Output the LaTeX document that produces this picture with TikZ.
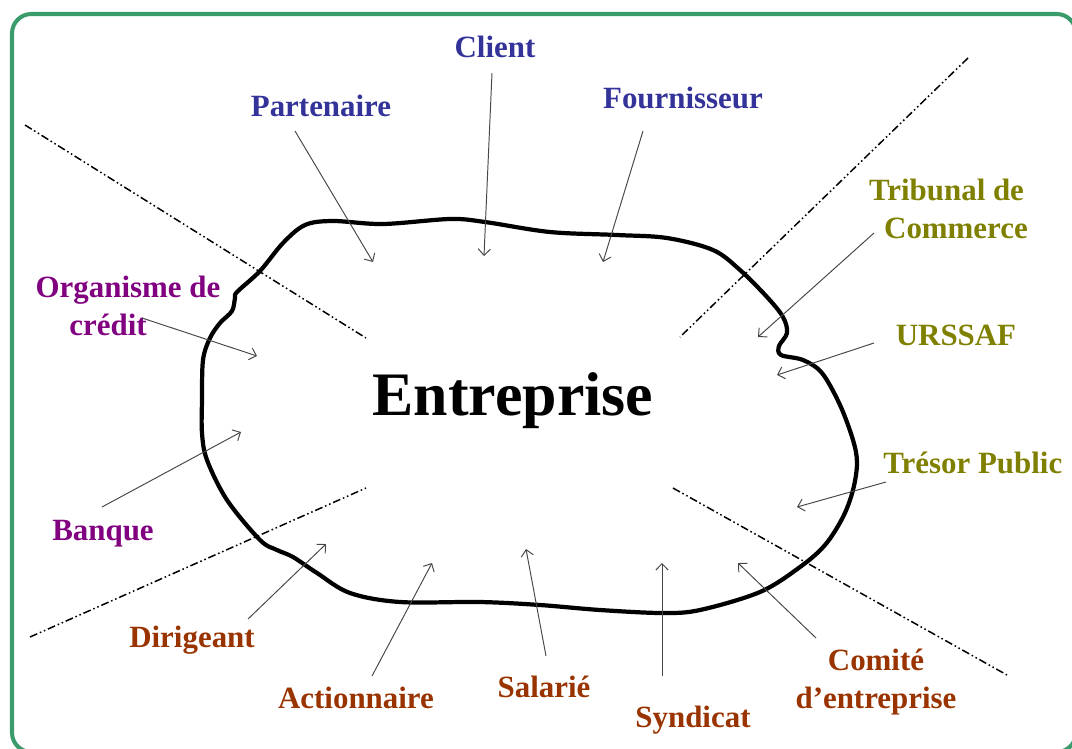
\documentclass[tikz,border=0pt]{standalone}
\usepackage{fontspec}
\setmainfont{Liberation Serif}
\usetikzlibrary{arrows.meta}
\definecolor{cblue}{RGB}{51,51,153}
\definecolor{cpurple}{RGB}{128,0,128}
\definecolor{colive}{RGB}{128,128,0}
\definecolor{cbrown}{RGB}{153,51,0}
\definecolor{cframe}{RGB}{58,155,107}
\begin{document}
\begin{tikzpicture}[x=0.02cm,y=-0.02cm,
  lbl/.style={font=\fontsize{17.6}{21.5}\selectfont\bfseries, inner sep=0pt, align=center, anchor=base},
  rel/.style={draw=black!72, line width=0.55pt, -{Straight Barb[length=3.6pt,width=7pt]}},
  sepline/.style={line width=0.85pt, dash pattern=on 4.5pt off 1.6pt on 0.9pt off 1.6pt on 0.9pt off 1.6pt},
  blob/.style={line width=2.4pt, line join=round},
]
\useasboundingbox (0,0) rectangle (1072,748);
\begin{scope}
\clip (0,0) rectangle (1072,748);
\draw[cframe, line width=2.3pt, rounded corners=11pt] (12,14) rectangle (1076,752);
\end{scope}

% separating lines
\coordinate (tl0) at (25,125);  \coordinate (tl1) at (366,338);
\coordinate (tr0) at (968,58);  \coordinate (tr1) at (680,337);
\coordinate (bl0) at (30,637);  \coordinate (bl1) at (366,488);
\coordinate (br0) at (673,488); \coordinate (br1) at (1007,675);
\draw[sepline] (tl0) -- (tl1);
\draw[sepline] (tr0) -- (tr1);
\draw[sepline] (bl0) -- (bl1);
\draw[sepline] (br0) -- (br1);

% enterprise outline
\draw[blob] plot[smooth cycle, tension=0.55] coordinates {
 (237,292) (260,271) (283,243) (305,225) (333,221) (383,224) (450,219) (485,222)
 (550,232) (617,235) (667,238) (713,250) (740,270) (767,297) (783,317) (787,333)
 (779,346) (781,355) (803,360) (822,373) (840,405) (853,440) (857,463) (853,490)
 (843,517) (825,545) (800,567) (760,592) (700,610) (662,613) (600,610) (540,605)
 (480,602) (400,602) (350,593) (317,573) (293,557) (277,550) (260,540) (227,500)
 (207,460) (202,433) (202,400) (203,360) (210,338) (220,323) (232,311) (235,298)};

\node[font=\fontsize{35.2}{40}\selectfont\bfseries, inner sep=0pt, anchor=base] (ent) at (513,415) {Entreprise};

% labels
\node[lbl, text=cblue] (client) at (495,57) {Client};
\node[lbl, text=cblue] (part) at (321,116) {Partenaire};
\node[lbl, text=cblue] (four) at (683,108) {Fournisseur};
\node[lbl, text=colive] (trib) at (956,238) {Tribunal de\kern10.8pt\\Commerce};
\node[lbl, text=colive] (urssaf) at (956,345) {URSSAF};
\node[lbl, text=colive, anchor=base west] (tresor) at (883,473) {Trésor Public};
\node[lbl, text=cpurple] (org) at (128,335) {Organisme de\\crédit\kern22.7pt};
\node[lbl, text=cpurple] (banque) at (103,540) {Banque};
\node[lbl, text=cbrown] (dir) at (192,647) {Dirigeant};
\node[lbl, text=cbrown] (act) at (356,708) {Actionnaire};
\node[lbl, text=cbrown] (sal) at (544,697) {Salarié};
\node[lbl, text=cbrown] (syn) at (693,727) {Syndicat};
\node[lbl, text=cbrown] (ce) at (876,708) {Comité\\d’entreprise};

% arrow ends
\coordinate (pa0) at (295,131); \coordinate (pa1) at (373,262);
\coordinate (cl0) at (492,73);  \coordinate (cl1) at (484,256);
\coordinate (fo0) at (643,131); \coordinate (fo1) at (603,262);
\coordinate (tr0a) at (874,233); \coordinate (tr1a) at (758,337);
\coordinate (ur0) at (874,343); \coordinate (ur1) at (777,375);
\coordinate (ts0) at (886,482); \coordinate (ts1) at (797,507);
\coordinate (or0) at (142,318); \coordinate (or1) at (257,356);
\coordinate (ba0) at (102,507); \coordinate (ba1) at (241,432);
\coordinate (di0) at (248,619); \coordinate (di1) at (326,544);
\coordinate (ac0) at (372,676); \coordinate (ac1) at (432,563);
\coordinate (sa0) at (546,656); \coordinate (sa1) at (526,549);
\coordinate (sy0) at (662,676); \coordinate (sy1) at (662,563);
\coordinate (co0) at (816,638); \coordinate (co1) at (738,563);

\draw[rel] (pa0) -- (pa1);
\draw[rel] (cl0) -- (cl1);
\draw[rel] (fo0) -- (fo1);
\draw[rel] (tr0a) -- (tr1a);
\draw[rel] (ur0) -- (ur1);
\draw[rel] (ts0) -- (ts1);
\draw[rel] (or0) -- (or1);
\draw[rel] (ba0) -- (ba1);
\draw[rel] (di0) -- (di1);
\draw[rel] (ac0) -- (ac1);
\draw[rel] (sa0) -- (sa1);
\draw[rel] (sy0) -- (sy1);
\draw[rel] (co0) -- (co1);
\end{tikzpicture}
\end{document}
